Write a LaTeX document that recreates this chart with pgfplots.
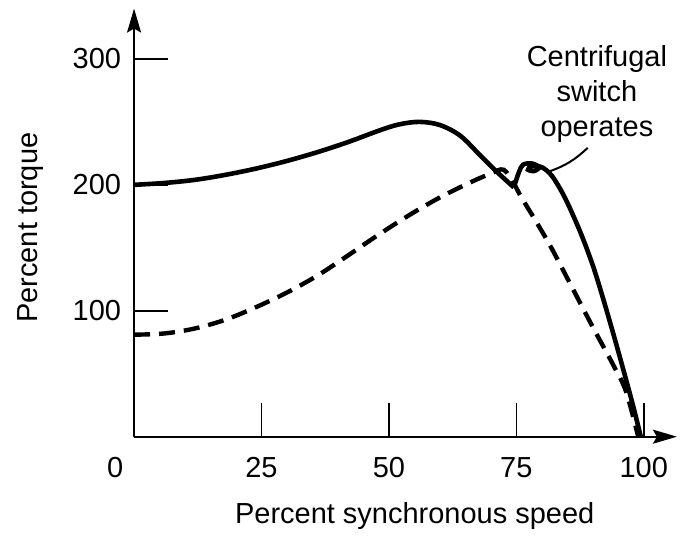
\documentclass[border=0pt]{standalone}
\usepackage{fontspec}
\setmainfont{Liberation Sans}
\usepackage{pgfplots}
\pgfplotsset{compat=1.18}
\usetikzlibrary{arrows.meta}

\begin{document}
\begin{tikzpicture}
  \begin{axis}[
      scale only axis,
      width=271.6pt, height=214.2pt,
      xmin=0, xmax=106.5,
      ymin=0, ymax=340,
      axis lines=left,
      axis line style={line width=1pt, -{Stealth[length=12pt, width=7pt, inset=2pt]}},
      xtick={25,50,75,100},
      ytick={100,200,300},
      tick align=inside,
      major tick length=17pt,
      tick style={line width=0.8pt, black},
      font=\fontsize{14.5}{17}\selectfont,
      /pgf/number format/assume math mode=true,
      xticklabel style={yshift=-7pt},
      yticklabel style={xshift=-3pt},
      xlabel={Percent synchronous speed},
      ylabel={Percent torque},
      xlabel style={at={(axis description cs:0.517,-0.186)}, anchor=center},
      ylabel style={at={(axis description cs:-0.19,0.488)}, anchor=center},
      clip=false,
    ]

    % invisible frame fixing the picture size
    \path (axis cs:-26.3,-76.2) rectangle (axis cs:107.3,346.8);

    % start + main winding
    \addplot[black, line width=2.3pt, smooth, tension=0.55] coordinates {
        (0,200) (6,201.5) (12,204) (18,208) (24,213) (30,219) (36,226)
        (42,234) (48,243) (52,248) (56,250) (60,247.5) (64,239) (68,223)
        (71,211) (74.5,198)
      };
    \addplot[black, line width=2.3pt, smooth, tension=0.5] coordinates {
        (74.5,198) (75.5,210) (76.3,216) (78,217) (79.5,214) (78.5,211)
        (77.3,212) (78,215) (80,214) (82,207) (84.5,190) (87.5,163) (90,136)
        (92,110) (94,82) (96,53) (98,23) (99.4,0)
      };

    % main winding only
    \addplot[black, line width=2.2pt, dash pattern=on 8pt off 4.5pt, smooth, tension=0.55] coordinates {
        (0,81) (6,82) (12,86) (18,93) (24,103) (30,114.5) (36,128) (42,144)
        (48,160.5) (54,176) (60,190) (66,202) (70,209) (72.5,212) (74.5,201)
        (76,190) (79,170) (82,149) (86,118) (90,87) (94,57) (96.5,36) (98.9,0)
      };

    \node at (axis cs:-3.7,-24.6) {0};
    \node[align=center, font=\fontsize{14.5}{17.5}\selectfont]
      at (axis cs:90.8,272) {Centrifugal\\switch\\operates};
    \draw[line width=1pt] (axis cs:89,229.4) to[bend left=12] (axis cs:81.2,210.3);
  \end{axis}
\end{tikzpicture}
\end{document}
